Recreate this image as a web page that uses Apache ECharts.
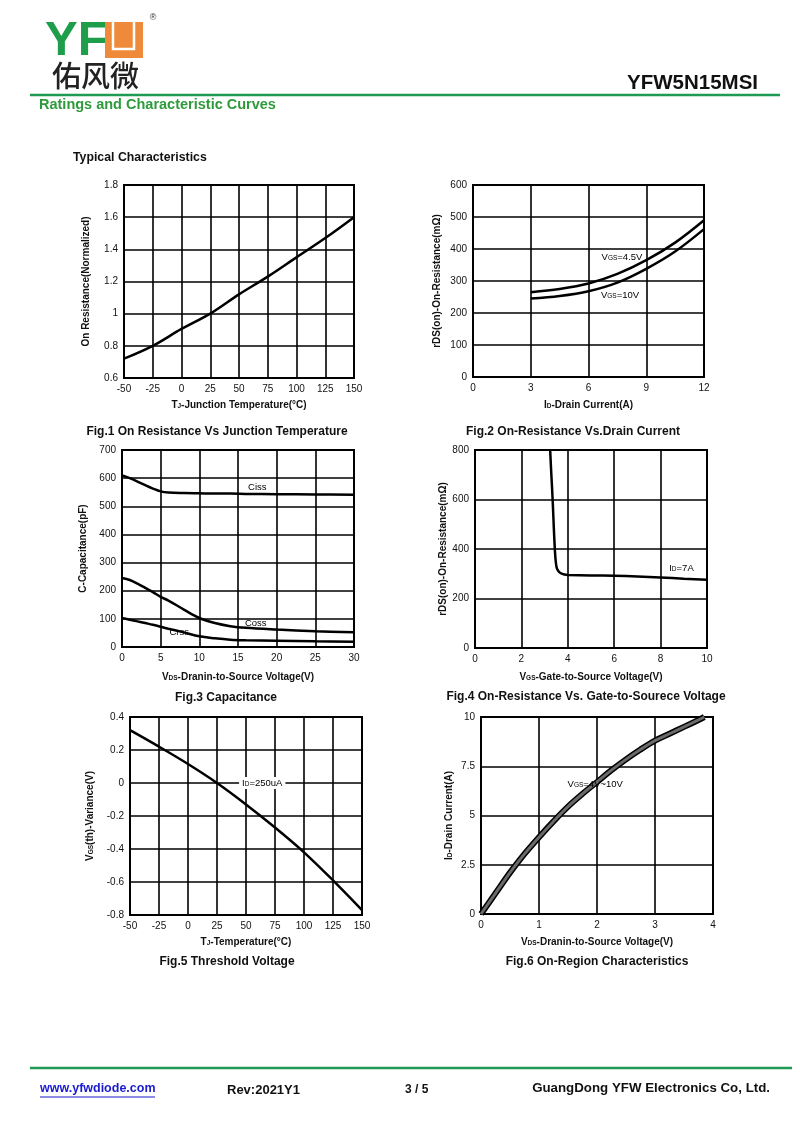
<!DOCTYPE html>
<html>
<head>
<meta charset="utf-8">
<script src="https://cdn.jsdelivr.net/npm/echarts@6/dist/echarts.min.js"></script>
<style>
html,body{margin:0;padding:0;background:#fff;}
#main{width:800px;height:1130px;}
</style>
</head>
<body>
<div id="main"></div>
<script>
// ---------- Data ----------
// Fig.1 On Resistance vs Junction Temperature
const fig1Temp = [-50, -25, 0, 25, 50, 75, 100, 125, 150];
const fig1Res  = [0.72, 0.80, 0.905, 1.00, 1.12, 1.23, 1.35, 1.47, 1.60];

// Fig.2 On-Resistance vs Drain Current
const fig2Id    = [3, 4.5, 6, 7.5, 9, 10.5, 12];
const fig2R45V  = [265, 275, 292, 322, 365, 420, 490];
const fig2R10V  = [245, 253, 268, 295, 338, 392, 462];

// Fig.3 Capacitance
const fig3Vds  = [0, 1, 2, 3, 4, 5, 6, 8, 10, 12, 14, 16, 20, 25, 30];
const fig3Ciss = [610, 600, 588, 575, 563, 553, 549, 547, 546, 545, 545, 544, 543, 542, 541];
const fig3Coss = [245, 238, 225, 210, 195, 178, 165, 133, 103, 85, 74, 68, 62, 56, 52];
const fig3Crss = [103, 97, 91, 85, 79, 72, 65, 52, 38, 31, 26, 24, 22, 20, 19];

// Fig.4 On-Resistance vs Gate-to-Source Voltage
const fig4Vgs = [3.24, 3.28, 3.32, 3.36, 3.40, 3.44, 3.48, 3.52, 3.6, 3.7, 3.85, 4.0, 5, 6, 7, 8, 9, 10];
const fig4R   = [800, 720, 650, 570, 480, 400, 350, 325, 310, 302, 297, 295, 293, 292, 289, 285, 280, 276];

// Fig.5 Threshold Voltage
const fig5Temp = [-50, -25, 0, 25, 50, 75, 100, 125, 150];
const fig5Vth  = [0.32, 0.22, 0.115, 0.0, -0.13, -0.27, -0.42, -0.59, -0.77];

// Fig.6 On-Region Characteristics
const fig6Vds = [0, 0.25, 0.5, 0.75, 1, 1.25, 1.5, 1.75, 2, 2.25, 2.5, 2.75, 3, 3.25, 3.5, 3.75, 3.85];
const fig6Id  = [0, 1.05, 2.1, 3.05, 3.9, 4.7, 5.45, 6.1, 6.7, 7.3, 7.85, 8.35, 8.8, 9.15, 9.5, 9.85, 10];

// Curve annotations: [gridIndex, x, y, rich text, white background]
const notes = [
  [1, 7.74, 375, '{n|V}{s|GS}{n|=4.5V}', false],
  [1, 7.64, 256, '{n|V}{s|GS}{n|=10V}', false],
  [2, 17.5, 568, '{n|Ciss}', false],
  [2, 17.3, 85, '{n|Coss}', false],
  [2, 7.4, 52, '{n|Crss}', false],
  [3, 8.9, 323, '{n|I}{s|D}{n|=7A}', false],
  [4, 64, 0, '{n|I}{s|D}{n|=250uA}', true],
  [5, 1.97, 6.6, '{n|V}{s|GS}{n|=4V~10V}', false]
];

// Captions
const captions = [
  'Fig.1 On Resistance Vs Junction Temperature',
  'Fig.2 On-Resistance Vs.Drain Current',
  'Fig.3 Capacitance',
  'Fig.4 On-Resistance Vs. Gate-to-Sourece Voltage',
  'Fig.5 Threshold Voltage',
  'Fig.6 On-Region Characteristics'
];

// ---------- Chart ----------
const FONT = '"Liberation Sans", Arial, Helvetica, sans-serif';
const chart = echarts.init(document.getElementById('main'), null, {renderer: 'canvas'});
const pts = (xs, ys) => xs.map((x, i) => [x, ys[i]]);

const subRich = {
  n: {fontSize: 10, fontWeight: 'bold', color: '#111', fontFamily: FONT},
  s: {fontSize: 6.5, fontWeight: 'bold', color: '#111', fontFamily: FONT, verticalAlign: 'bottom'}
};
const labRich = {
  n: {fontSize: 9.5, fill: '#000', color: '#000', fontFamily: FONT},
  s: {fontSize: 6.5, fill: '#000', color: '#000', fontFamily: FONT, verticalAlign: 'bottom'}
};

const grids = [
  {left: 124, top: 185, width: 230, height: 193},
  {left: 473, top: 185, width: 231, height: 192},
  {left: 122, top: 450, width: 232, height: 197},
  {left: 475, top: 450, width: 232, height: 198},
  {left: 130, top: 717, width: 232, height: 198},
  {left: 481, top: 717, width: 232, height: 197}
].map(g => Object.assign({show: true, borderColor: '#000', borderWidth: 2, containLabel: false}, g));

function ax(i, min, max, interval, name, gap) {
  return {
    type: 'value', gridIndex: i, min, max, interval,
    name, nameLocation: 'middle', nameGap: gap,
    nameTextStyle: {rich: subRich, fontSize: 10, fontWeight: 'bold', color: '#111', fontFamily: FONT},
    axisLine: {show: true, onZero: false, lineStyle: {color: '#000', width: 2}},
    axisTick: {show: false},
    axisLabel: {color: '#111', fontSize: 10, fontFamily: FONT, margin: 6},
    splitLine: {show: true, lineStyle: {color: '#000', width: 1.6}}
  };
}

const xAxes = [
  ax(0, -50, 150, 25, '{n|T}{s|J}{n|-Junction Temperature(°C)}', 22),
  ax(1, 0, 12, 3, '{n|I}{s|D}{n|-Drain Current(A)}', 23),
  ax(2, 0, 30, 5, '{n|V}{s|DS}{n|-Dranin-to-Source Voltage(V)}', 25),
  ax(3, 0, 10, 2, '{n|V}{s|GS}{n|-Gate-to-Source Voltage(V)}', 24),
  ax(4, -50, 150, 25, '{n|T}{s|J}{n|-Temperature(°C)}', 22),
  ax(5, 0, 4, 1, '{n|V}{s|DS}{n|-Dranin-to-Source Voltage(V)}', 23)
];
const yAxes = [
  ax(0, 0.6, 1.8, 0.2, 'On Resistance(Normalized)', 33),
  ax(1, 0, 600, 100, 'rDS(on)-On-Resistance(mΩ)', 31),
  ax(2, 0, 700, 100, 'C-Capacitance(pF)', 34),
  ax(3, 0, 800, 200, 'rDS(on)-On-Resistance(mΩ)', 25),
  ax(4, -0.8, 0.4, 0.2, '{n|V}{s|GS}{n|(th)-Variance(V)}', 35),
  ax(5, 0, 10, 2.5, '{n|I}{s|D}{n|-Drain Current(A)}', 27)
];

function curve(i, data, opts) {
  return Object.assign({
    type: 'line', xAxisIndex: i, yAxisIndex: i, data,
    showSymbol: false, symbol: 'none', smooth: 0.35,
    lineStyle: {color: '#000', width: 2.5}, z: 3, silent: true, animation: false
  }, opts || {});
}

const series = [
  curve(0, pts(fig1Temp, fig1Res)),
  curve(1, pts(fig2Id, fig2R45V)),
  curve(1, pts(fig2Id, fig2R10V)),
  curve(2, pts(fig3Vds, fig3Ciss)),
  curve(2, pts(fig3Vds, fig3Coss)),
  curve(2, pts(fig3Vds, fig3Crss)),
  curve(3, pts(fig4Vgs, fig4R), {smooth: 0.2}),
  curve(4, pts(fig5Temp, fig5Vth)),
  curve(5, pts(fig6Vds, fig6Id), {lineStyle: {color: '#000', width: 6}}),
  curve(5, pts(fig6Vds, fig6Id), {lineStyle: {color: '#6a6a6a', width: 3}, z: 4})
];

const captionPos = [[217, 432], [573, 432], [226, 698], [586, 697], [227, 962], [597, 962]];

function txt(x, y, text, font, fill, align) {
  return {
    type: 'text', x, y, silent: true,
    style: {text, font, fill: fill || '#000', textAlign: align || 'left', textVerticalAlign: 'middle',
            align: align || 'left', verticalAlign: 'middle'}
  };
}

const GREEN = '#1f9a55';
const graphics = [
  // logo
  txt(45, 41, 'YF', 'bold 49px ' + FONT, '#1e9e4b', 'left'),
  {type: 'rect', silent: true, shape: {x: 105, y: 22, width: 38, height: 36}, style: {fill: '#ee8a3a'}},
  {type: 'polyline', silent: true, shape: {points: [[113, 22], [113, 49], [134, 49], [134, 22]]},
   style: {stroke: '#fff', lineWidth: 2.5, fill: null}},
  txt(153, 18, '®', '9px ' + FONT, '#333', 'center'),
  txt(52, 76, '佑风微', '500 29px "Noto Sans CJK SC"', '#222', 'left'),
  txt(758, 83, 'YFW5N15MSI', 'bold 20.5px ' + FONT, '#111', 'right'),
  {type: 'line', silent: true, shape: {x1: 30, y1: 95, x2: 780, y2: 95}, style: {stroke: GREEN, lineWidth: 2.5}},
  txt(39, 105, 'Ratings and Characteristic Curves', 'bold 14.5px ' + FONT, '#2f9a3c', 'left'),
  txt(73, 158, 'Typical Characteristics', 'bold 12.3px ' + FONT, '#111', 'left'),
  // footer
  {type: 'line', silent: true, shape: {x1: 30, y1: 1068, x2: 792, y2: 1068}, style: {stroke: GREEN, lineWidth: 2.5}},
  txt(40, 1089, 'www.yfwdiode.com', 'bold 12.5px ' + FONT, '#1b1bd0', 'left'),
  {type: 'line', silent: true, shape: {x1: 40, y1: 1097, x2: 155, y2: 1097}, style: {stroke: '#1b1bd0', lineWidth: 1}},
  txt(227, 1090, 'Rev:2021Y1', 'bold 13px ' + FONT, '#111', 'left'),
  txt(405, 1090, '3 / 5', 'bold 12px ' + FONT, '#111', 'left'),
  txt(770, 1088, 'GuangDong YFW Electronics Co, Ltd.', 'bold 13.3px ' + FONT, '#111', 'right')
];
captions.forEach((c, i) => {
  graphics.push(txt(captionPos[i][0], captionPos[i][1], c, 'bold 12px ' + FONT, '#111', 'center'));
});

chart.setOption({
  backgroundColor: '#fff',
  animation: false,
  textStyle: {fontFamily: FONT},
  grid: grids,
  xAxis: xAxes,
  yAxis: yAxes,
  series,
  graphic: graphics
});

// Place curve annotations through the library's own coordinate conversion
const noteGraphics = notes.map(([g, x, y, text, bg]) => {
  const p = chart.convertToPixel({gridIndex: g}, [x, y]);
  return {
    type: 'text', x: p[0], y: p[1], z: 50, silent: true,
    style: {
      text, rich: labRich, fill: '#000', font: '9.5px ' + FONT,
      align: 'center', verticalAlign: 'middle', textAlign: 'center', textVerticalAlign: 'middle',
      backgroundColor: bg ? '#fff' : null, padding: bg ? [1, 3] : 0
    }
  };
});
chart.setOption({graphic: graphics.concat(noteGraphics)});
</script>
</body>
</html>
